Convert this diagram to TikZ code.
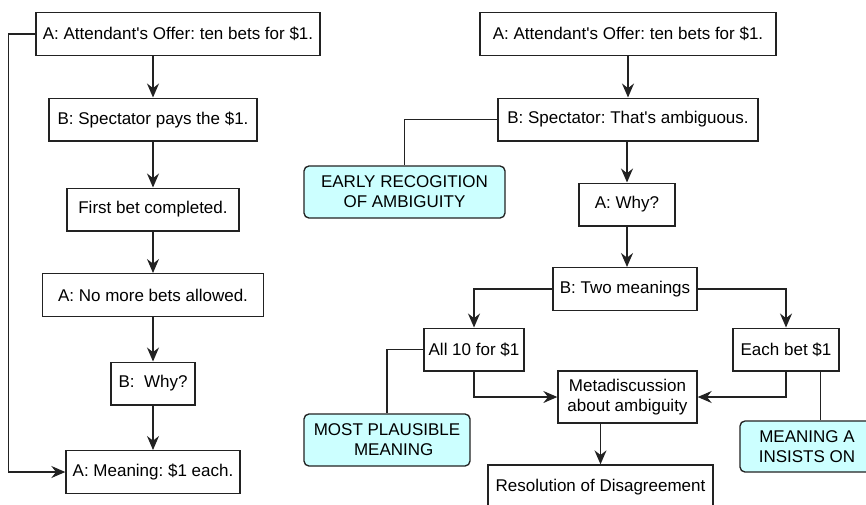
\documentclass[tikz,border=0pt]{standalone}
\usepackage{fontspec}
\setmainfont{Liberation Sans}
\usetikzlibrary{arrows.meta}
\definecolor{notecyan}{RGB}{204,255,255}
\definecolor{inkgray}{RGB}{34,34,34}
\frenchspacing

\begin{document}
\begin{tikzpicture}[x=0.75pt, y=-0.75pt,
    font=\fontsize{12.75}{15}\selectfont,
    msgbox/.style={draw=inkgray, line width=1pt, inner sep=0pt, minimum height=32pt, align=center},
    notebox/.style={msgbox, fill=notecyan, rounded corners=3.75pt, minimum height=39pt},
    link/.style={draw=inkgray, line width=1pt},
    >={Stealth[length=10.5pt, width=9pt, inset=3.5pt]}]
    \useasboundingbox (0,0) rectangle (866,504);
    \clip (0,0) rectangle (866,504);
    % left: the bet as the attendant tells it
    \node[msgbox, minimum width=213pt] (offerL) at (178,34) {A: Attendant\textquotesingle s Offer: ten bets for \$1.};
    \node[msgbox, minimum width=156pt] (paysL) at (153,119.5) {B: Spectator pays the \$1.};
    \node[msgbox, minimum width=129pt] (firstL) at (153,209.5) {First bet completed.};
    \node[msgbox, minimum width=165.75pt] (nomoreL) at (153,295) {A: No more bets allowed.};
    \node[msgbox, minimum width=63pt] (whyL) at (153,383.5) {B:\ \ Why?};
    \node[msgbox, minimum width=130.5pt] (meaningL) at (153,472) {A: Meaning: \$1 each.};
    \draw[link, ->] (offerL.south -| paysL.north) -- (paysL.north);
    \draw[link, ->] (paysL) -- (firstL);
    \draw[link, ->] (firstL) -- (nomoreL);
    \draw[link, ->] (nomoreL) -- (whyL);
    \draw[link, ->] (whyL) -- (meaningL);
    \draw[link, ->] (offerL.west) -- ++(-27,0) |- (meaningL.west);
    % right: the ambiguity is raised early
    \node[msgbox, minimum width=222pt] (offerR) at (628,34) {A: Attendant\textquotesingle s Offer: ten bets for \$1.};
    \node[msgbox, minimum width=195pt] (ambigR) at (628,119.5) {B: Spectator: That\textquotesingle s ambiguous.};
    \node[notebox, minimum width=150.75pt] (early) at (404.5,192) {EARLY RECOGITION\\OF AMBIGUITY};
    \node[msgbox, minimum width=72pt] (whyR) at (627,204.5) {A: Why?};
    \node[msgbox, minimum width=108pt] (twoR) at (625,289) {B: Two meanings};
    \node[msgbox, minimum width=75pt] (allR) at (474,349.5) {All 10 for \$1};
    \node[msgbox, minimum width=79.5pt] (eachR) at (786,349.5) {Each bet \$1};
    \node[msgbox, minimum width=104.25pt, minimum height=39pt] (metaR) at (627.5,397) {Metadiscussion\\about ambiguity};
    \node[notebox, minimum width=124.5pt] (plausible) at (387,440) {MOST PLAUSIBLE\\\hspace*{10pt}MEANING};
    \node[notebox, minimum width=100.5pt, minimum height=38.25pt] (insists) at (807,446.5) {MEANING A\\INSISTS ON};
    \node[msgbox, minimum width=168.75pt, minimum height=33pt] (resolR) at (600.5,487) {Resolution of Disagreement};
    \draw[link, ->] (offerR) -- (ambigR);
    \draw[link] (ambigR.west) -| (early.north);
    \draw[link, ->] (ambigR.south -| whyR.north) -- (whyR.north);
    \draw[link, ->] (whyR.south) -- (whyR.south |- twoR.north);
    \draw[link, ->] (twoR.west) -| (allR.north);
    \draw[link, ->] (twoR.east) -| (eachR.north);
    \draw[link] (allR.west) -| (plausible.north);
    \draw[link, ->] (allR.south) |- (metaR.west);
    \draw[link, ->] (eachR.south) |- (metaR.east);
    \coordinate (tap) at ([xshift=-14.25pt]eachR.south east);
    \draw[link] (tap) -- (tap |- insists.north);
    \draw[link, ->] (resolR.north |- metaR.south) -- (resolR.north);
\end{tikzpicture}
\end{document}
